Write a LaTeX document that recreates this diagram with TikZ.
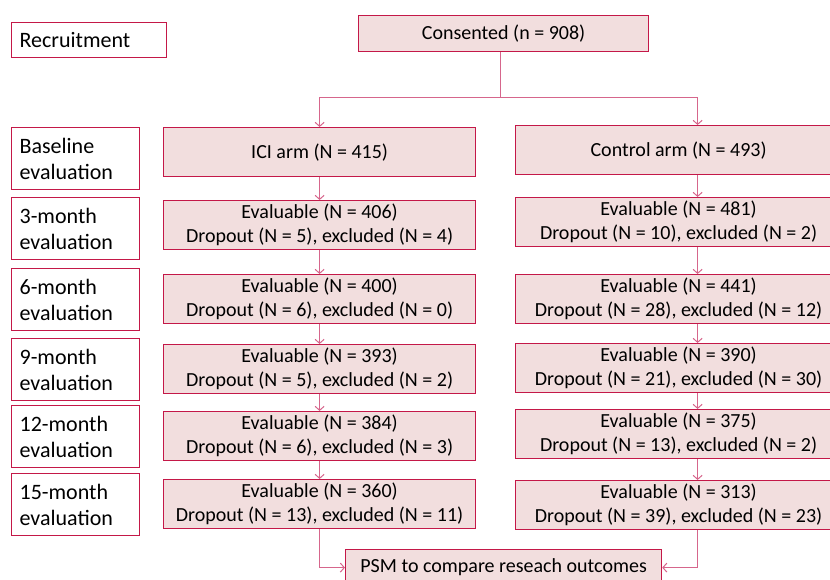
\documentclass[tikz,border=0pt]{standalone}
\usepackage{fontspec}
\setmainfont{Carlito}
\usetikzlibrary{arrows.meta}
\definecolor{boxred}{RGB}{196,24,72}
\definecolor{boxfill}{RGB}{242,222,222}
\definecolor{linered}{RGB}{214,102,140}

\begin{document}
\begin{tikzpicture}[x=1pt, y=-1pt,
    stage_label/.style={draw=boxred, line width=1.2pt, fill=white, anchor=north west, minimum width=128pt, minimum height=62pt, text width=112pt, align=left, inner xsep=8pt, inner ysep=2pt, font=\fontsize{22}{26}\selectfont},
    flow_box/.style={draw=boxred, line width=1.2pt, fill=boxfill, anchor=north west, minimum height=49pt, align=center, inner sep=2pt, font=\fontsize{20}{24}\selectfont},
    ici_box/.style={flow_box, minimum width=312pt},
    ctrl_box/.style={flow_box, minimum width=326pt},
    connector/.style={line width=1pt, draw=linered},
    arrow/.style={connector, -{Straight Barb[length=4pt, width=9pt]}}
]
    \path[use as bounding box] (0,0) rectangle (830,579);
    \clip (0,0) rectangle (830,579);

    % Stage labels down the left side
    \node[stage_label, minimum width=155pt, text width=139pt, minimum height=35pt] (rec_label) at (11,22) {Recruitment};
    \node[stage_label] (lab_base) at (11,127) {Baseline\\evaluation};
    \node[stage_label] (lab_3m) at (11,197) {3-month\\evaluation};
    \node[stage_label] (lab_6m) at (11,268) {6-month\\evaluation};
    \node[stage_label] (lab_9m) at (11,338) {9-month\\evaluation};
    \node[stage_label] (lab_12m) at (11,405) {12-month\\evaluation};
    \node[stage_label] (lab_15m) at (11,473) {15-month\\evaluation};

    % Recruitment
    \node[flow_box, minimum width=290pt, minimum height=36pt] (consented) at (358,15) {Consented (n = 908)};
    \coordinate (split) at (500.5,97.5);

    % ICI arm column
    \node[ici_box] (ici_arm) at (163,127) {ICI arm (N = 415)};
    \node[ici_box] (ici_3m) at (163,200) {Evaluable (N = 406)\\Dropout (N = 5), excluded (N = 4)};
    \node[ici_box] (ici_6m) at (163,274) {Evaluable (N = 400)\\Dropout (N = 6), excluded (N = 0)};
    \node[ici_box] (ici_9m) at (163,344) {Evaluable (N = 393)\\Dropout (N = 5), excluded (N = 2)};
    \node[ici_box] (ici_12m) at (163,411) {Evaluable (N = 384)\\Dropout (N = 6), excluded (N = 3)};
    \node[ici_box] (ici_15m) at (163,479) {Evaluable (N = 360)\\Dropout (N = 13), excluded (N = 11)};

    % Control arm column
    \node[ctrl_box] (ctrl_arm) at (515,125) {Control arm (N = 493)};
    \node[ctrl_box] (ctrl_3m) at (515,197) {Evaluable (N = 481)\\Dropout (N = 10), excluded (N = 2)};
    \node[ctrl_box] (ctrl_6m) at (515,274) {Evaluable (N = 441)\\Dropout (N = 28), excluded (N = 12)};
    \node[ctrl_box] (ctrl_9m) at (515,343) {Evaluable (N = 390)\\Dropout (N = 21), excluded (N = 30)};
    \node[ctrl_box] (ctrl_12m) at (515,409) {Evaluable (N = 375)\\Dropout (N = 13), excluded (N = 2)};
    \node[ctrl_box] (ctrl_15m) at (515,480) {Evaluable (N = 313)\\Dropout (N = 39), excluded (N = 23)};

    % Matching
    \node[flow_box, minimum width=316pt, minimum height=36pt] (psm) at (345,549) {PSM to compare reseach outcomes};

    % Split into the two arms
    \draw[connector] (split |- consented.south) -- (split);
    \draw[arrow] (split) -| (ici_arm.north);
    \draw[arrow] (split) -| ([xshift=19pt]ctrl_arm.north);

    % Follow-up arrows
    \draw[arrow] (ici_arm) -- (ici_3m);
    \draw[arrow] (ici_3m) -- (ici_6m);
    \draw[arrow] (ici_6m) -- (ici_9m);
    \draw[arrow] (ici_9m) -- (ici_12m);
    \draw[arrow] (ici_12m) -- (ici_15m);
    \draw[arrow] ([xshift=19pt]ctrl_arm.south) -- ([xshift=19pt]ctrl_3m.north);
    \draw[arrow] ([xshift=19pt]ctrl_3m.south) -- ([xshift=19pt]ctrl_6m.north);
    \draw[arrow] ([xshift=19pt]ctrl_6m.south) -- ([xshift=19pt]ctrl_9m.north);
    \draw[arrow] ([xshift=19pt]ctrl_9m.south) -- ([xshift=19pt]ctrl_12m.north);
    \draw[arrow] ([xshift=19pt]ctrl_12m.south) -- ([xshift=19pt]ctrl_15m.north);

    % Both arms into PSM
    \draw[arrow] (ici_15m.south) |- (psm.west);
    \draw[arrow] ([xshift=19pt]ctrl_15m.south) |- (psm.east);
\end{tikzpicture}
\end{document}
